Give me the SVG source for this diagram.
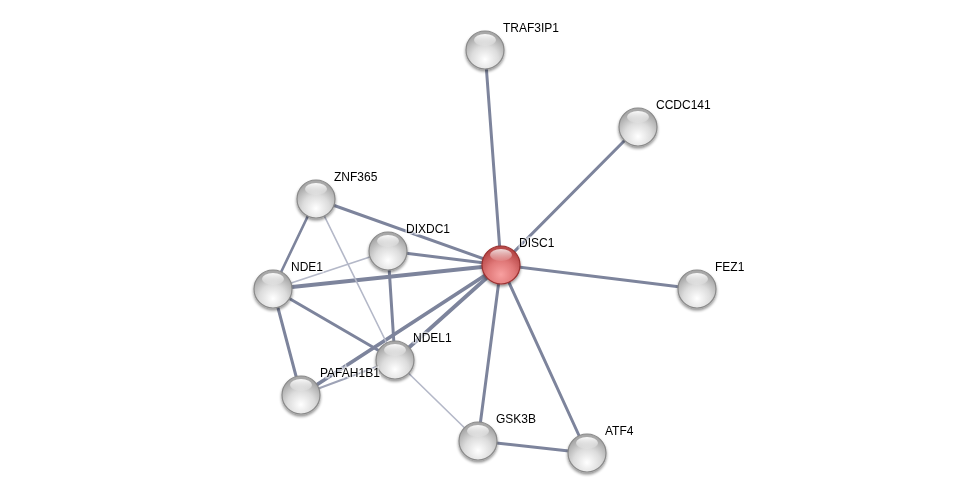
<svg xmlns="http://www.w3.org/2000/svg" width="975" height="498" viewBox="0 0 975 498">
<style>
.e{stroke:#7d849c;stroke-linecap:round;fill:none}
.t{stroke-width:3}
.k{stroke-width:3.8}
.m{stroke-width:2.6}
.l{stroke:#b4b8c8;stroke-width:1.6}
.lm{stroke:#9ea3b6;stroke-width:2}
text{font-family:"Liberation Sans",Arial,sans-serif;font-size:12px;fill:#000;stroke:#fff;stroke-width:3;stroke-opacity:0.6;paint-order:stroke}
.ring{stroke:#8a8a8a;stroke-width:1.2}
.ringr{stroke:#9a3030;stroke-width:1.2}
</style>
<defs>
<radialGradient id="g" cx="50%" cy="75%" r="65%">
<stop offset="0" stop-color="#ffffff"/>
<stop offset="0.55" stop-color="#dcdcdc"/>
<stop offset="1" stop-color="#a8a8a8"/>
</radialGradient>
<radialGradient id="r" cx="50%" cy="75%" r="65%">
<stop offset="0" stop-color="#f8a0a0"/>
<stop offset="0.55" stop-color="#e07878"/>
<stop offset="1" stop-color="#b84848"/>
</radialGradient>
<linearGradient id="h" x1="0" y1="0" x2="0" y2="1">
<stop offset="0" stop-color="#fff" stop-opacity="0.95"/>
<stop offset="1" stop-color="#fff" stop-opacity="0.1"/>
</linearGradient>
<filter id="s" x="-30%" y="-30%" width="160%" height="170%">
<feGaussianBlur in="SourceAlpha" stdDeviation="1.5"/>
<feOffset dy="2" result="b"/>
<feComponentTransfer><feFuncA type="linear" slope="0.45"/></feComponentTransfer>
<feMerge><feMergeNode/><feMergeNode in="SourceGraphic"/></feMerge>
</filter>
<g id="n">
<circle r="19" fill="url(#g)" class="ring"/>
<ellipse cy="-10" rx="11" ry="6" fill="url(#h)"/>
</g>
<g id="nr">
<circle r="19" fill="url(#r)" class="ringr"/>
<ellipse cy="-10" rx="11" ry="6" fill="url(#h)" opacity="0.85"/>
</g>
</defs>
<rect width="975" height="498" fill="#fff"/>
<g id="connectors">
<line class="e t" x1="501" y1="265" x2="485" y2="50"/>
<line class="e t" x1="501" y1="265" x2="638" y2="127"/>
<line class="e t" x1="501" y1="265" x2="697" y2="289"/>
<line class="e t" x1="501" y1="265" x2="587" y2="453"/>
<line class="e t" x1="501" y1="265" x2="478" y2="441"/>
<line class="e k" x1="501" y1="265" x2="395" y2="360"/>
<line class="e k" x1="501" y1="265" x2="301" y2="395"/>
<line class="e k" x1="501" y1="265" x2="273" y2="289"/>
<line class="e t" x1="501" y1="265" x2="388" y2="251"/>
<line class="e t" x1="501" y1="265" x2="316" y2="199"/>
<line class="e m" x1="316" y1="199" x2="273" y2="289"/>
<line class="e l" x1="316" y1="199" x2="395" y2="360"/>
<line class="e l" x1="273" y1="289" x2="388" y2="251"/>
<line class="e t" x1="273" y1="289" x2="395" y2="360"/>
<line class="e t" x1="273" y1="289" x2="301" y2="395"/>
<line class="e t" x1="388" y1="251" x2="395" y2="360"/>
<line class="e lm" x1="301" y1="395" x2="395" y2="360"/>
<line class="e l" x1="395" y1="360" x2="478" y2="441"/>
<line class="e t" x1="478" y1="441" x2="587" y2="453"/>
</g>
<g filter="url(#s)">
<g id="TRAF3IP1"><use href="#n" x="485" y="50"/></g>
<g id="CCDC141"><use href="#n" x="638" y="127"/></g>
<g id="ZNF365"><use href="#n" x="316" y="199"/></g>
<g id="DIXDC1"><use href="#n" x="388" y="251"/></g>
<g id="NDE1"><use href="#n" x="273" y="289"/></g>
<g id="FEZ1"><use href="#n" x="697" y="289"/></g>
<g id="NDEL1"><use href="#n" x="395" y="360"/></g>
<g id="PAFAH1B1"><use href="#n" x="301" y="395"/></g>
<g id="GSK3B"><use href="#n" x="478" y="441"/></g>
<g id="ATF4"><use href="#n" x="587" y="453"/></g>
<g id="DISC1"><use href="#nr" x="501" y="265"/></g>
</g>
<g id="labels">
<text x="503" y="32">TRAF3IP1</text>
<text x="656" y="109">CCDC141</text>
<text x="334" y="181">ZNF365</text>
<text x="406" y="233">DIXDC1</text>
<text x="519" y="247">DISC1</text>
<text x="291" y="271">NDE1</text>
<text x="715" y="271">FEZ1</text>
<text x="413" y="342">NDEL1</text>
<text x="320" y="377">PAFAH1B1</text>
<text x="496" y="423">GSK3B</text>
<text x="605" y="435">ATF4</text>
</g>
</svg>
